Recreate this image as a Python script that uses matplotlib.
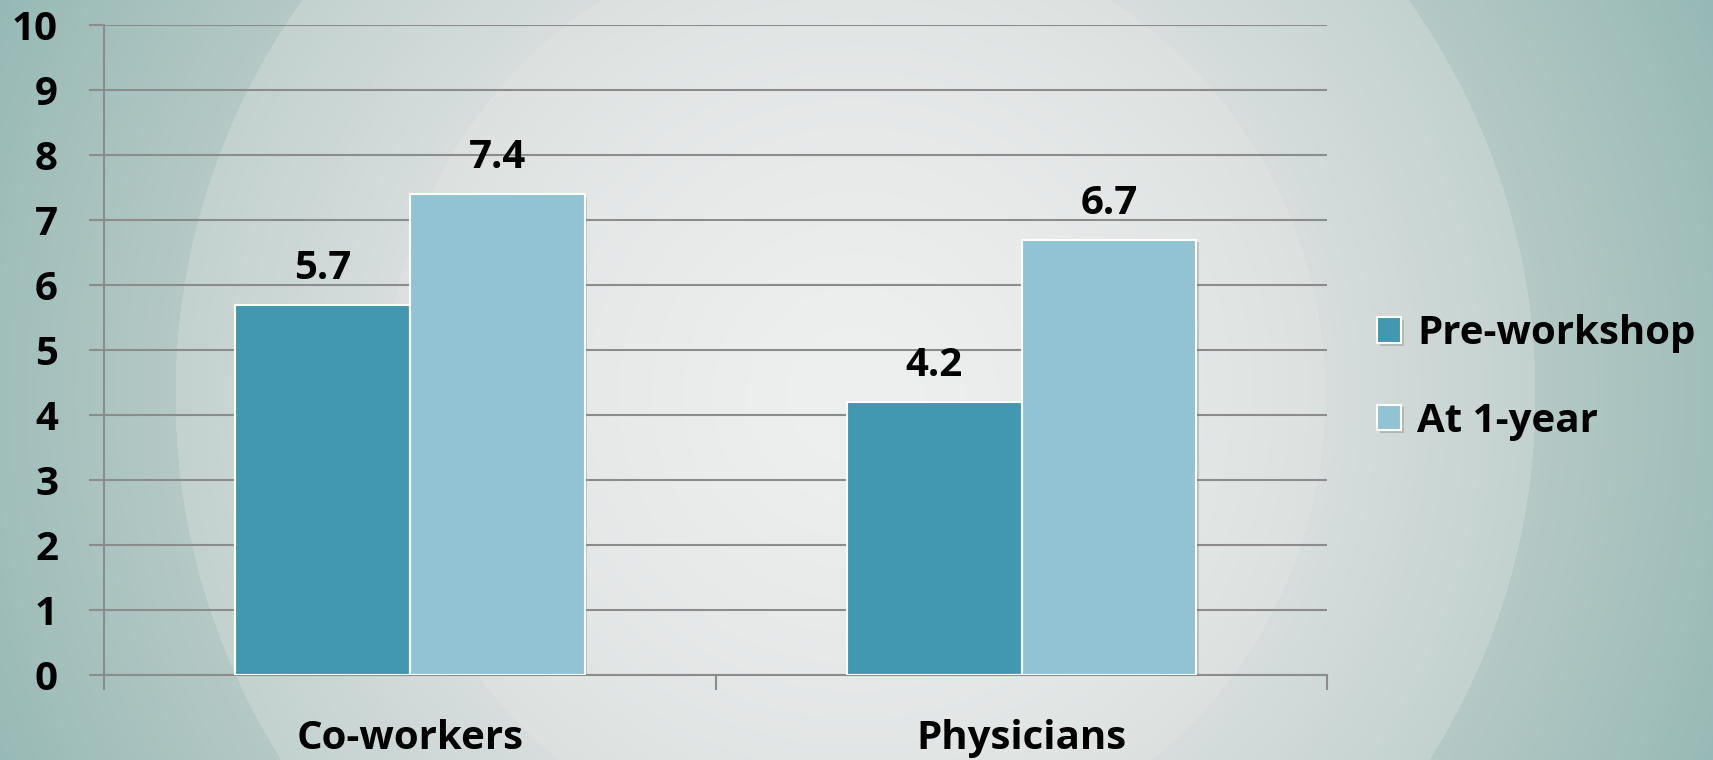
import numpy as np
import matplotlib
matplotlib.use("Agg")
import matplotlib.pyplot as plt
import matplotlib.patheffects as pe
from matplotlib.colors import to_rgb

categories = ["Co-workers", "Physicians"]
series_names = ["Pre-workshop", "At 1-year"]
pre_workshop = [5.7, 4.2]
at_one_year = [7.4, 6.7]
y_ticks = list(range(0, 11))

COLORS = ["#4398B1", "#92C3D5"]
GRID = "#8C8C8C"
FS = 29

plt.rcParams["font.family"] = ["Open Sans", "DejaVu Sans"]
plt.rcParams["font.weight"] = "bold"

W, H, DPI = 1713, 760, 100
fig = plt.figure(figsize=(W / DPI, H / DPI), dpi=DPI)

# --- radial background with two soft rings ---
bg = fig.add_axes([0, 0, 1, 1])
yy, xx = np.mgrid[0:H, 0:W]
r = np.hypot(xx - 855, yy - 395)
R1, R2 = 470.0, 680.0


def blend(c0, c1, t):
    c0, c1 = np.array(to_rgb(c0)), np.array(to_rgb(c1))
    return c0 + (c1 - c0) * np.clip(t, 0, 1)[..., None]


inner = blend("#EEEFEF", "#DCE1E0", (r / R1) ** 1.5)
band = blend("#D7DEDD", "#C3D2CF", (r - R1) / (R2 - R1))
outer = blend("#B5C9C6", "#89B2AE", (r - R2) / 380.0)
img = np.where((r < R1)[..., None], inner,
               np.where((r < R2)[..., None], band, outer))
bg.imshow(img, aspect="auto", extent=[0, 1, 0, 1], origin="upper")
bg.axis("off")

# --- chart ---
ax = fig.add_axes([0.0606, 0.1118, 0.7143, 0.8552])
ax.patch.set_alpha(0)
x = np.arange(len(categories))
bw = 2 / 7
shadow = [pe.withSimplePatchShadow(offset=(2, -2), shadow_rgbFace="#555555", alpha=0.25)]
for i, (vals, col) in enumerate(zip([pre_workshop, at_one_year], COLORS)):
    b = ax.bar(x + (i - 0.5) * bw, vals, bw, color=col, edgecolor="white",
               linewidth=1.5, label=series_names[i], zorder=3, path_effects=shadow)
    for rect, v in zip(b, vals):
        ax.annotate(f"{v:.1f}", (rect.get_x() + rect.get_width() / 2, v),
                    xytext=(0, 12), textcoords="offset points",
                    ha="center", va="bottom", fontsize=FS, fontweight="bold",
                    color="black", zorder=4)

ax.set_xlim(-0.5, 1.5)
ax.set_ylim(0, 10)
ax.set_yticks(y_ticks)
ax.yaxis.grid(True, color=GRID, linewidth=1.5, zorder=0)
ax.set_axisbelow(True)

ax.set_xticks([-0.5, 0.5, 1.5])
ax.set_xticklabels([])
ax.set_xticks(x, minor=True)
ax.set_xticklabels(categories, minor=True, fontsize=FS, fontweight="bold")
ax.tick_params(axis="x", which="major", length=11, width=1.5, color=GRID, direction="out")
ax.tick_params(axis="x", which="minor", length=0, pad=32)
ax.tick_params(axis="y", length=11, width=1.5, color=GRID, pad=22, labelsize=FS)
for lab in ax.get_yticklabels():
    lab.set_fontweight("bold")

for s in ["top", "right"]:
    ax.spines[s].set_visible(False)
for s in ["left", "bottom"]:
    ax.spines[s].set_color(GRID)
    ax.spines[s].set_linewidth(1.5)

leg = ax.legend(loc="center left", bbox_to_anchor=(1.011, 0.458), frameon=False,
                prop={"size": FS, "weight": "bold"}, handlelength=0.6,
                handleheight=0.6, handletextpad=0.4, labelspacing=1.2)
for h in leg.legend_handles:
    h.set_edgecolor("white")
    h.set_linewidth(1.5)

fig.savefig("out.png", dpi=DPI)
